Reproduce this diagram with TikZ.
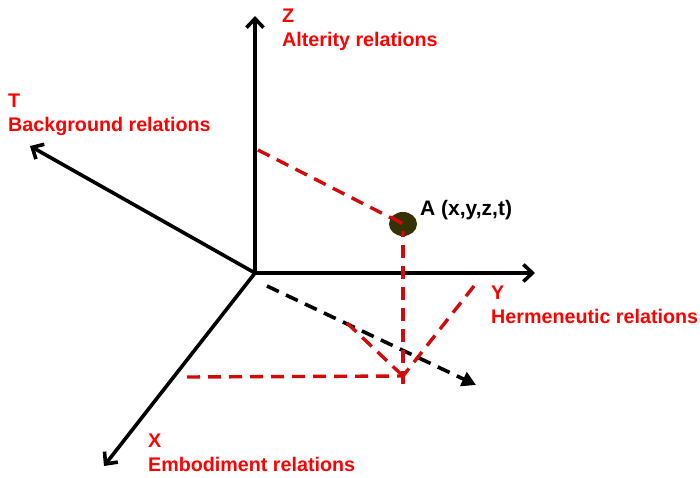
\documentclass[tikz,border=0pt]{standalone}
\usepackage{fontspec}
\setmainfont{Liberation Sans}
\usetikzlibrary{arrows.meta}
\definecolor{lblred}{RGB}{255,0,0}
\definecolor{dashred}{RGB}{210,10,10}
\definecolor{dotolive}{RGB}{55,50,5}
\begin{document}
\begin{tikzpicture}[x=1pt,y=-1pt,
  axis/.style={line width=3.6pt,-{Straight Barb[length=9pt,width=17pt,line width=3.6pt]}},
  daxis/.style={line width=3.6pt,dash pattern=on 13pt off 8pt,-{Triangle[length=14pt,width=15pt]}},
  proj/.style={line width=3.4pt,dashred,dash pattern=on 13pt off 8pt},
  lbl/.style={text=lblred,font=\bfseries\fontsize{19.7}{24}\selectfont,align=left,anchor=north west,inner sep=0pt}]
\useasboundingbox (0,0) rectangle (700,478);
\coordinate (O) at (255,273);
\coordinate (Ztip) at (255,16);
\coordinate (Ttip) at (30,146);
\coordinate (Ytip) at (535,273);
\coordinate (Xtip) at (104,466);
\coordinate (Dstart) at (267,286);
\coordinate (Dtip) at (476,385);
\coordinate (A) at (403,224);
\coordinate (Zp) at (258,150);
\coordinate (F) at (403,376);
\coordinate (Fbot) at (403,384);
\coordinate (Xp) at (187,377);
\coordinate (Yp) at (474,286);
\coordinate (Dp) at (347,323);
\draw[axis] (O) -- (Ztip);
\draw[axis] (O) -- (Ttip);
\draw[axis] (O) -- (Ytip);
\draw[axis] (O) -- (Xtip);
\draw[daxis] (Dstart) -- (Dtip);
\draw[proj] (Zp) -- (A);
\draw[proj] (A) -- (Fbot);
\draw[proj] (Xp) -- (F);
\draw[proj] (Yp) -- (F);
\draw[proj] (Dp) -- (F);
\fill[dotolive] (A) ellipse [x radius=14pt,y radius=12pt];
\draw[proj] (A) ++(-12,-7) -- (A) -- ++(0,12);
\node[anchor=west,inner sep=0pt,font=\bfseries\fontsize{21}{24}\selectfont] (Alab) at (420,210) {A (x,y,z,t)};
\node[lbl] (Zlab) at (282,9) {Z\\Alterity relations};
\node[lbl] (Tlab) at (8,94) {T\\Background relations};
\node[lbl] (Ylab) at (491,286) {Y\\Hermeneutic relations};
\node[lbl] (Xlab) at (148,434) {X\\Embodiment relations};
\end{tikzpicture}
\end{document}
